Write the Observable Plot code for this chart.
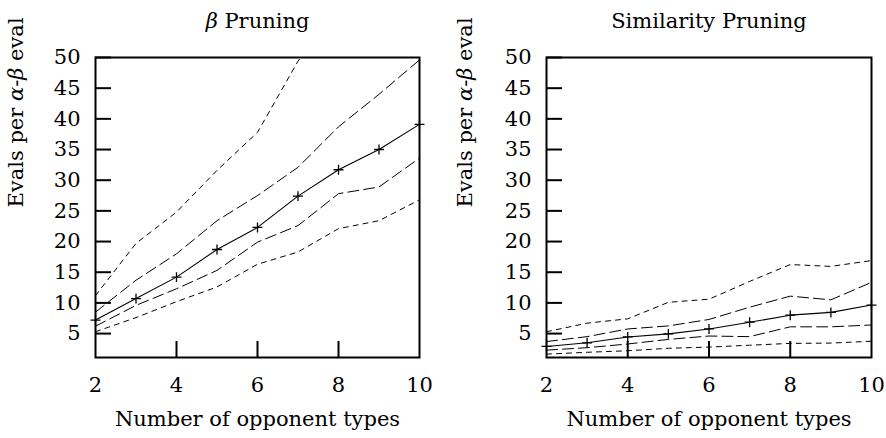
<!DOCTYPE html>
<html><head><meta charset="utf-8">
<script src="https://cdn.jsdelivr.net/npm/d3@7"></script>
<script src="https://cdn.jsdelivr.net/npm/@observablehq/plot@0.6"></script>
<style>
body{margin:0;background:#fff;}
#wrap{display:flex;width:886px;height:438px;}
</style></head><body><div id="wrap"></div>
<script>
// Data
const opponents = [2, 3, 4, 5, 6, 7, 8, 9, 10];

// β Pruning
const betaMean   = [7.2, 10.7, 14.2, 18.7, 22.3, 27.4, 31.7, 35.0, 39.1];
const betaUpper1 = [8.5, 13.7, 18.0, 23.4, 27.5, 32.1, 38.7, 44.0, 49.6];
const betaLower1 = [6.2, 9.6, 12.3, 15.3, 19.9, 22.6, 27.8, 28.9, 33.6];
const betaUpper2 = [11.2, 19.7, 24.8, 31.6, 37.8, 49.4, 58.0, 64.0, 71.0];
const betaLower2 = [5.3, 7.6, 10.2, 12.6, 16.3, 18.3, 22.1, 23.4, 26.8];

// Similarity Pruning
const simMean   = [2.9, 3.5, 4.45, 4.95, 5.75, 6.85, 8.0, 8.45, 9.65];
const simUpper1 = [3.7, 4.5, 5.75, 6.25, 7.3, 9.3, 11.1, 10.5, 13.35];
const simLower1 = [2.3, 2.7, 3.3, 4.05, 4.6, 4.5, 6.1, 6.1, 6.4];
const simUpper2 = [5.3, 6.7, 7.4, 10.1, 10.6, 13.5, 16.25, 15.95, 16.9];
const simLower2 = [1.65, 1.95, 2.2, 2.6, 2.8, 3.1, 3.4, 3.45, 3.75];

const yTicks = [5, 10, 15, 20, 25, 30, 35, 40, 45, 50];
const xTicks = [2, 4, 6, 8, 10];
const xInnerTicks = [4, 6, 8];

const titles = ["β Pruning", "Similarity Pruning"];
const yLabel = "Evals per α-β eval";
const xLabel = "Number of opponent types";

const FONT = "DejaVu Serif";
const FS = 21;

function rows(vals) { return opponents.map((x, i) => ({x, y: vals[i]})); }

function panel({title, mean, upper1, lower1, upper2, lower2, marginLeft, marginRight, yLabelDx}) {
  const long = "11,5", short = "5,5";
  return Plot.plot({
    width: 443, height: 438,
    marginTop: 57, marginBottom: 81, marginLeft, marginRight,
    style: {fontFamily: FONT, fontSize: FS + "px", background: "#fff", color: "#000"},
    x: {domain: [2, 10]},
    y: {domain: [1.1, 50]},
    marks: [
      Plot.line(rows(upper2), {x: "x", y: "y", stroke: "#000", strokeWidth: 1, strokeDasharray: short, clip: true}),
      Plot.line(rows(upper1), {x: "x", y: "y", stroke: "#000", strokeWidth: 1, strokeDasharray: long, clip: true}),
      Plot.line(rows(lower1), {x: "x", y: "y", stroke: "#000", strokeWidth: 1, strokeDasharray: long, clip: true}),
      Plot.line(rows(lower2), {x: "x", y: "y", stroke: "#000", strokeWidth: 1, strokeDasharray: short, clip: true}),
      Plot.line(rows(mean), {x: "x", y: "y", stroke: "#000", strokeWidth: 1.1}),
      Plot.dot(rows(mean), {x: "x", y: "y", symbol: "plus", r: 3.3, stroke: "#000", strokeWidth: 1.3}),
      Plot.axisY({ticks: yTicks, tickSize: 0, tickPadding: 15, fontSize: FS, label: null}),
      Plot.axisY({ticks: yTicks, tickSize: -16, tickFormat: () => "", strokeWidth: 2, label: null}),
      Plot.axisX({ticks: xTicks, tickSize: 0, tickPadding: 20, fontSize: FS, label: null}),
      Plot.axisX({ticks: xInnerTicks, tickSize: -16, tickFormat: () => "", strokeWidth: 2, label: null}),
      Plot.frame({stroke: "#000", strokeWidth: 2}),
      Plot.text([title], {text: d => d, frameAnchor: "top", dy: -30, lineAnchor: "bottom", fontSize: FS}),
      Plot.text([xLabel], {text: d => d, frameAnchor: "bottom", dy: 68, lineAnchor: "bottom", fontSize: FS}),
      Plot.text([yLabel], {text: d => d, frameAnchor: "left", dx: yLabelDx, rotate: -90, lineAnchor: "middle", fontSize: FS})
    ]
  });
}

function italicize(svg) {
  d3.select(svg).selectAll("text").each(function() {
    if (this.querySelector("tspan")) return;
    const t = this.textContent;
    if (!/[αβ]/.test(t)) return;
    const parts = t.split(/([αβ])/);
    this.textContent = "";
    for (const p of parts) {
      if (!p) continue;
      const ts = document.createElementNS("http://www.w3.org/2000/svg", "tspan");
      ts.textContent = p;
      if (/[αβ]/.test(p)) ts.setAttribute("font-style", "italic");
      this.appendChild(ts);
    }
  });
}

const wrap = document.getElementById("wrap");
const left = panel({title: titles[0], mean: betaMean, upper1: betaUpper1, lower1: betaLower1, upper2: betaUpper2, lower2: betaLower2, marginLeft: 95, marginRight: 24, yLabelDx: -79});
const right = panel({title: titles[1], mean: simMean, upper1: simUpper1, lower1: simLower1, upper2: simUpper2, lower2: simLower2, marginLeft: 103, marginRight: 15, yLabelDx: -81});
italicize(left); italicize(right);
wrap.appendChild(left);
wrap.appendChild(right);
</script></body></html>
